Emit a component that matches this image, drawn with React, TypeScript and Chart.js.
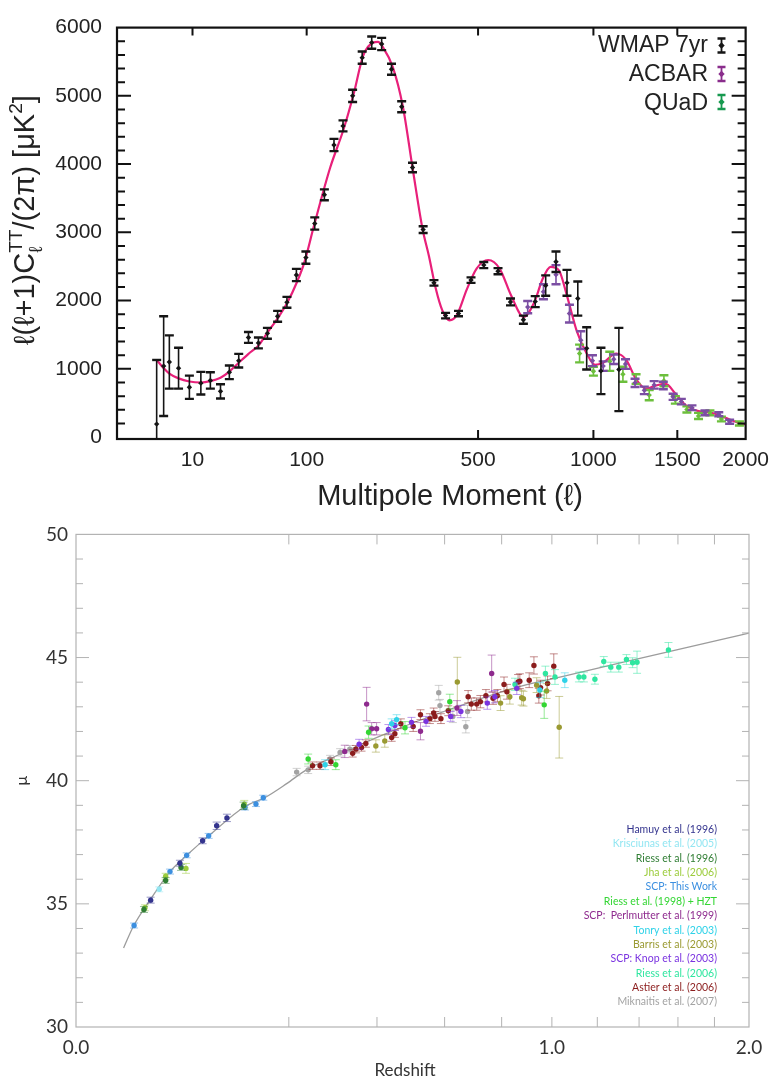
import React, { useEffect, useRef } from 'react';
import { Chart, registerables, LinearScale } from 'chart.js';

Chart.register(...registerables);

// ---------------- custom power-law axis (x^p) ----------------
class PowScale extends LinearScale {
  static id = 'pow';
  static defaults = {};
  expo(): number {
    const e = (this.options as any).exponent;
    return typeof e === 'number' ? e : 0.5;
  }
  fwd(v: number): number {
    return Math.pow(Math.max(v, 0), this.expo());
  }
  getPixelForValue(value: any): number {
    if (value === null || value === undefined || isNaN(value)) return NaN;
    const a = this.fwd(this.min);
    const b = this.fwd(this.max);
    return this.getPixelForDecimal((this.fwd(+value) - a) / (b - a));
  }
  getValueForPixel(pixel: number): number {
    const a = this.fwd(this.min);
    const b = this.fwd(this.max);
    return Math.pow(a + this.getDecimalForPixel(pixel) * (b - a), 1 / this.expo());
  }
}
Chart.register(PowScale as any);

// ================= TOP PANEL DATA (CMB power spectrum) =================
const TOP_X_TICKS = [10, 100, 500, 1000, 1500, 2000];
const TOP_Y_TICKS = [0, 1000, 2000, 3000, 4000, 5000, 6000];
const TOP_TOPAXIS_TICKS = [10, 100, 500, 1000, 1500];
const TOP_BOTTOMAXIS_TICKS = [500, 1000, 1500];

const CURVE_L = [2, 3, 4, 6, 9, 13, 17, 22, 27, 33, 40, 48, 56, 66, 76, 88, 97, 110, 134, 156, 174, 192, 212, 222, 233, 255, 279, 303, 329, 347, 366, 385, 407, 430, 462, 495, 536, 578, 623, 673, 718, 753, 790, 828, 867, 915, 965, 1008, 1052, 1124, 1181, 1239, 1298, 1360, 1423, 1487, 1554, 1646, 1740, 1837, 1978, 2000];
const CURVE_D = [1130, 1010, 930, 860, 815, 800, 820, 870, 960, 1090, 1220, 1340, 1530, 1740, 1960, 2280, 2560, 3100, 3950, 4510, 5030, 5590, 5780, 5790, 5710, 5420, 4840, 3950, 3060, 2650, 2180, 1860, 1710, 1790, 2164, 2469, 2595, 2469, 2070, 1760, 1976, 2305, 2495, 2446, 2070, 1553, 1225, 1060, 1090, 1225, 1131, 849, 710, 755, 780, 638, 474, 380, 356, 286, 193, 188];

const WMAP_L = [2, 3, 4, 6, 9, 13, 17, 22, 27, 33, 40, 48, 56, 66, 76, 87, 99, 111, 125, 140, 155, 172, 190, 209, 230, 252, 276, 303, 331, 361, 395, 435, 476, 520, 572, 620, 672, 722, 768, 815, 867, 920, 965, 1040, 1139];
const WMAP_D = [190, 1040, 1100, 1010, 730, 790, 830, 670, 950, 1120, 1460, 1380, 1520, 1770, 1975, 2375, 2630, 3130, 3550, 4280, 4560, 5000, 5560, 5780, 5760, 5390, 4840, 3950, 3040, 2260, 1780, 1810, 2300, 2520, 2430, 1980, 1720, 1985, 2220, 2570, 2260, 2030, 1300, 970, 990];
const WMAP_ERR = [940, 730, 390, 300, 170, 165, 120, 105, 100, 100, 80, 80, 80, 80, 80, 90, 90, 90, 80, 90, 80, 90, 90, 90, 90, 80, 80, 70, 50, 40, 40, 40, 40, 45, 45, 50, 60, 80, 150, 150, 190, 250, 310, 340, 610];

const ACBAR_L = [690, 758, 815, 879, 935, 995, 1052, 1110, 1177, 1233, 1289, 1350, 1408, 1472, 1527, 1600, 1692, 1793, 1875];
const ACBAR_D = [1905, 2130, 2380, 1810, 1420, 1120, 1040, 1140, 1070, 795, 685, 765, 755, 590, 520, 430, 355, 335, 225];
const ACBAR_ERR = [90, 110, 140, 130, 130, 80, 70, 70, 70, 60, 55, 55, 55, 45, 40, 35, 35, 30, 30];

const QUAD_L = [929, 1000, 1088, 1162, 1239, 1319, 1412, 1487, 1565, 1646, 1728, 1813, 1951];
const QUAD_D = [1225, 965, 1110, 920, 850, 615, 825, 545, 405, 310, 355, 265, 200];
const QUAD_ERR = [130, 65, 140, 110, 70, 75, 80, 55, 45, 45, 35, 35, 30];

const TOP_LEGEND_LABELS = ['WMAP 7yr', 'ACBAR', 'QUaD'];
const TOP_LEGEND_COLORS = ['#151515', '#8a2d8c', '#17994f'];
const TOP_POINT_COLORS = ['#151515', '#7b4ea3', '#6cbf3c'];
const PINK = '#e8207a';

// ================= BOTTOM PANEL DATA (Hubble diagram) =================
const BOT_X_TICKS = [0, 1, 2];
const BOT_Y_TICKS = [30, 35, 40, 45, 50];
const BOT_MINOR_X = [0.2, 0.4, 0.6, 0.8, 1.0, 1.2, 1.4, 1.6, 1.8];

const LCDM_Z = [0.01, 0.0145, 0.0242, 0.039, 0.0541, 0.0781, 0.126, 0.158, 0.196, 0.235, 0.292, 0.408, 0.6065, 0.844, 1.034, 1.404, 1.83, 2.0];
const LCDM_MU = [33.21, 34.08, 35.15, 36.31, 36.97, 37.77, 38.95, 39.32, 39.88, 40.45, 40.95, 41.81, 42.85, 43.75, 44.21, 44.97, 45.72, 45.99];

// each entry: [redshift, distance modulus, error]
const HAMUY = [[0.0246, 35.15, 0.12], [0.0477, 36.65, 0.12], [0.0708, 37.56, 0.12], [0.0874, 38.17, 0.15], [0.1006, 38.49, 0.15]];
const KRISCIUNAS = [[0.0306, 35.59, 0.1]];
const RIESS96 = [[0.0204, 34.77, 0.12], [0.0355, 35.95, 0.12], [0.0487, 36.48, 0.12], [0.124, 38.98, 0.15]];
const JHA = [[0.021, 34.84, 0.12], [0.0355, 36.12, 0.12], [0.0534, 36.44, 0.2], [0.125, 39.05, 0.15]];
const SCP_NEW = [[0.0149, 34.12, 0.1], [0.039, 36.31, 0.1], [0.0541, 36.97, 0.1], [0.0777, 37.76, 0.1], [0.1262, 38.91, 0.1], [0.143, 39.05, 0.1], [0.1549, 39.31, 0.1]];
const RIESS98 = [[0.238, 40.88, 0.2], [0.298, 40.65, 0.2], [0.378, 41.97, 0.25], [0.478, 42.15, 0.25], [0.617, 43.21, 0.3], [0.968, 43.08, 0.55]];
const PERLMUTTER = [[0.319, 41.19, 0.25], [0.373, 43.11, 0.68], [0.386, 42.11, 0.25], [0.399, 42.11, 0.25], [0.524, 42.01, 0.35], [0.641, 42.95, 0.3], [0.763, 44.35, 0.75]];
const TONRY = [[0.274, 40.65, 0.2], [0.44, 42.31, 0.2], [0.454, 42.48, 0.2], [0.95, 43.68, 0.3], [1.055, 44.08, 0.3]];
const BARRIS = [[0.397, 41.41, 0.25], [0.421, 41.61, 0.25], [0.642, 44.01, 1.0], [0.796, 43.15, 0.3], [0.831, 43.41, 0.3], [0.877, 43.37, 0.3], [0.884, 43.33, 0.3], [0.937, 43.88, 0.3], [0.978, 43.64, 0.3], [1.031, 42.17, 1.25]];
const KNOP = [[0.354, 41.48, 0.2], [0.431, 42.08, 0.2], [0.449, 42.24, 0.2], [0.497, 42.37, 0.2], [0.541, 42.41, 0.2], [0.62, 42.61, 0.2], [0.654, 42.81, 0.25], [0.747, 43.15, 0.25], [0.775, 43.41, 0.25], [0.858, 43.75, 0.25]];
const RIESS06 = [[0.851, 43.91, 0.25], [0.973, 44.35, 0.3], [1.013, 44.21, 0.3], [1.117, 44.21, 0.2], [1.139, 44.21, 0.2], [1.189, 44.12, 0.2], [1.23, 44.84, 0.2], [1.263, 44.61, 0.2], [1.301, 44.61, 0.2], [1.338, 44.92, 0.2], [1.368, 44.79, 0.2], [1.39, 44.81, 0.45], [1.55, 45.31, 0.3]];
const ASTIER = [[0.247, 40.61, 0.15], [0.263, 40.61, 0.15], [0.287, 40.77, 0.15], [0.338, 41.11, 0.15], [0.346, 41.28, 0.15], [0.36, 41.35, 0.15], [0.371, 41.51, 0.15], [0.44, 41.75, 0.15], [0.449, 41.91, 0.15], [0.466, 42.31, 0.2], [0.502, 42.2, 0.2], [0.524, 42.68, 0.2], [0.553, 42.52, 0.2], [0.565, 42.75, 0.2], [0.569, 42.61, 0.2], [0.588, 42.52, 0.2], [0.612, 42.84, 0.2], [0.679, 43.41, 0.25], [0.69, 43.11, 0.25], [0.709, 43.11, 0.25], [0.722, 43.21, 0.25], [0.742, 43.45, 0.25], [0.768, 43.35, 0.25], [0.784, 43.45, 0.25], [0.809, 43.91, 0.3], [0.82, 43.61, 0.3], [0.863, 44.01, 0.3], [0.87, 44.04, 0.3], [0.907, 44.08, 0.3], [0.926, 44.68, 0.35], [0.946, 43.45, 0.3], [0.953, 43.78, 0.3], [0.982, 43.95, 0.3], [1.008, 44.65, 0.5]];
const MIKNAITIS = [[0.215, 40.35, 0.15], [0.238, 40.44, 0.15], [0.285, 40.88, 0.15], [0.308, 41.15, 0.15], [0.331, 41.28, 0.15], [0.581, 43.57, 0.3], [0.585, 43.05, 0.25], [0.627, 42.61, 0.25], [0.671, 42.19, 0.25], [0.677, 42.81, 0.25]];

const SN_SERIES = [HAMUY, KRISCIUNAS, RIESS96, JHA, SCP_NEW, RIESS98, PERLMUTTER, TONRY, BARRIS, KNOP, RIESS06, ASTIER, MIKNAITIS];
const SN_LABELS = ['Hamuy et al. (1996)', 'Krisciunas et al. (2005)', 'Riess et al. (1996)', 'Jha et al. (2006)', 'SCP: This Work', 'Riess et al. (1998) + HZT', 'SCP:  Perlmutter et al. (1999)', 'Tonry et al. (2003)', 'Barris et al. (2003)', 'SCP: Knop et al. (2003)', 'Riess et al. (2006)', 'Astier et al. (2006)', 'Miknaitis et al. (2007)'];
const SN_COLORS = ['#34348e', '#93e6f2', '#2f7d33', '#9ccc3c', '#3b8fe0', '#33d633', '#8e2a8e', '#2fd2e8', '#9a9a32', '#7a33e0', '#2fe6a0', '#8b1c1c', '#a3a3a3'];

const SANS = "'Liberation Sans', Arial, Helvetica, sans-serif";
const LATO = "Lato, 'Open Sans', sans-serif";

// ---------------- helpers ----------------
function makeErrorBars(id: string, lineWidth: number, capWidth: number, capHalf: number) {
  return {
    id,
    beforeDatasetDraw(chart: any, args: any) {
      const ds: any = chart.data.datasets[args.index];
      if (!ds.errs) return;
      const { ctx, chartArea: a } = chart;
      const xs = chart.scales.x;
      const ys = chart.scales.y;
      ctx.save();
      ctx.strokeStyle = ds.errColor;
      ds.data.forEach((p: any, i: number) => {
        const e = ds.errs[i];
        const x = xs.getPixelForValue(p.x);
        const yHi = ys.getPixelForValue(p.y + e);
        const yLo = ys.getPixelForValue(p.y - e);
        ctx.lineWidth = lineWidth;
        ctx.beginPath();
        ctx.moveTo(x, Math.max(yHi, a.top));
        ctx.lineTo(x, Math.min(yLo, a.bottom));
        ctx.stroke();
        ctx.lineWidth = capWidth;
        ctx.beginPath();
        if (yHi >= a.top) { ctx.moveTo(x - capHalf, yHi); ctx.lineTo(x + capHalf, yHi); }
        if (yLo <= a.bottom) { ctx.moveTo(x - capHalf, yLo); ctx.lineTo(x + capHalf, yLo); }
        ctx.stroke();
      });
      ctx.restore();
    },
  };
}

type Seg = { t: string; k?: 'sub' | 'sup'; stack?: boolean };
function drawRich(ctx: CanvasRenderingContext2D, segs: Seg[], size: number, family: string) {
  // lays out centred on x = 0, baseline y = 0
  let cur = 0;
  let prevStart = 0;
  const items: any[] = [];
  for (const s of segs) {
    const fs = s.k ? size * 0.66 : size;
    ctx.font = `${fs}px ${family}`;
    const w = ctx.measureText(s.t).width;
    const start = s.stack ? prevStart : cur;
    items.push({ s, fs, x: start });
    cur = Math.max(cur, start + w);
    prevStart = start;
  }
  const x0 = -cur / 2;
  ctx.textAlign = 'left';
  ctx.textBaseline = 'alphabetic';
  for (const it of items) {
    ctx.font = `${it.fs}px ${family}`;
    const dy = it.s.k === 'sub' ? size * 0.28 : it.s.k === 'sup' ? -size * 0.42 : 0;
    ctx.fillText(it.s.t, x0 + it.x, dy);
  }
}

function drawFrame(chart: any, color: string, width: number, tickWidth: number,
  yTicks: { v: number; len: number }[], xTop: { v: number; len: number }[], xBottom: { v: number; len: number }[]) {
  const { ctx, chartArea: a } = chart;
  const xs = chart.scales.x;
  const ys = chart.scales.y;
  ctx.save();
  ctx.strokeStyle = color;
  ctx.lineWidth = tickWidth;
  ctx.beginPath();
  for (const t of yTicks) {
    const y = ys.getPixelForValue(t.v);
    ctx.moveTo(a.left, y); ctx.lineTo(a.left + t.len, y);
    ctx.moveTo(a.right, y); ctx.lineTo(a.right - t.len, y);
  }
  for (const t of xTop) {
    const x = xs.getPixelForValue(t.v);
    ctx.moveTo(x, a.top); ctx.lineTo(x, a.top + t.len);
  }
  for (const t of xBottom) {
    const x = xs.getPixelForValue(t.v);
    ctx.moveTo(x, a.bottom); ctx.lineTo(x, a.bottom - t.len);
  }
  ctx.stroke();
  ctx.lineWidth = width;
  ctx.strokeRect(a.left, a.top, a.right - a.left, a.bottom - a.top);
  ctx.restore();
}

const pts = (xs: number[], ys: number[]) => xs.map((x, i) => ({ x, y: ys[i] }));

// ---------------- top chart ----------------
function topConfig(): any {
  const yMinor: { v: number; len: number }[] = [];
  for (let v = 200; v < 6000; v += 200) yMinor.push({ v, len: v % 1000 === 0 ? 14 : 8 });

  const decor = {
    id: 'topDecor',
    afterDraw(chart: any) {
      drawFrame(chart, '#111', 2.2, 2,
        yMinor,
        TOP_TOPAXIS_TICKS.map((v) => ({ v, len: 8 })),
        TOP_BOTTOMAXIS_TICKS.map((v) => ({ v, len: 9 })));
      const ctx: CanvasRenderingContext2D = chart.ctx;
      ctx.save();
      ctx.fillStyle = '#222';
      // x title
      ctx.save();
      ctx.translate(450, 505);
      drawRich(ctx, [{ t: 'Multipole Moment (ℓ)' }], 29, SANS);
      ctx.restore();
      // y title
      ctx.save();
      ctx.translate(34, 220);
      ctx.rotate(-Math.PI / 2);
      drawRich(ctx, [{ t: 'ℓ(ℓ+1)C' }, { t: 'ℓ', k: 'sub' }, { t: 'TT', k: 'sup', stack: true }, { t: '/(2π) [μK' }, { t: '2', k: 'sup' }, { t: ']' }], 29, SANS);
      ctx.restore();
      // legend
      const baselines = [52, 81, 110];
      const centers = [45.5, 74, 102];
      TOP_LEGEND_LABELS.forEach((lab, i) => {
        ctx.font = `23px ${SANS}`;
        ctx.textAlign = 'right';
        ctx.textBaseline = 'alphabetic';
        ctx.fillStyle = '#222';
        ctx.fillText(lab, 708, baselines[i]);
        const cx = 721.5;
        const cy = centers[i];
        ctx.strokeStyle = TOP_LEGEND_COLORS[i];
        ctx.fillStyle = TOP_LEGEND_COLORS[i];
        ctx.lineWidth = 1.8;
        ctx.beginPath();
        ctx.moveTo(cx, cy - 7); ctx.lineTo(cx, cy + 7);
        ctx.stroke();
        ctx.lineWidth = 2.4;
        ctx.beginPath();
        ctx.moveTo(cx - 4, cy - 7); ctx.lineTo(cx + 4, cy - 7);
        ctx.moveTo(cx - 4, cy + 7); ctx.lineTo(cx + 4, cy + 7);
        ctx.stroke();
        ctx.beginPath();
        ctx.moveTo(cx, cy - 3.2); ctx.lineTo(cx + 3.2, cy); ctx.lineTo(cx, cy + 3.2); ctx.lineTo(cx - 3.2, cy);
        ctx.closePath();
        ctx.fill();
      });
      ctx.restore();
    },
  };

  const series = [
    { l: WMAP_L, d: WMAP_D, e: WMAP_ERR },
    { l: ACBAR_L, d: ACBAR_D, e: ACBAR_ERR },
    { l: QUAD_L, d: QUAD_D, e: QUAD_ERR },
  ];

  return {
    type: 'scatter',
    data: {
      datasets: [
        ...series.map((s, i) => ({
          label: TOP_LEGEND_LABELS[i],
          data: pts(s.l, s.d),
          errs: s.e,
          errColor: TOP_POINT_COLORS[i],
          backgroundColor: TOP_POINT_COLORS[i],
          borderColor: TOP_POINT_COLORS[i],
          pointStyle: 'rectRot',
          pointRadius: 2.7,
          pointBorderWidth: 0,
          order: i + 1,
        })),
        {
          label: 'model',
          data: pts(CURVE_L, CURVE_D),
          showLine: true,
          borderColor: PINK,
          borderWidth: 2.2,
          pointRadius: 0,
          cubicInterpolationMode: 'monotone',
          order: 9,
        },
      ],
    },
    options: {
      responsive: false,
      animation: false,
      devicePixelRatio: 1,
      events: [],
      layout: { padding: { left: 0, right: 25, top: 13, bottom: 0 } },
      plugins: { legend: { display: false }, tooltip: { enabled: false } },
      scales: {
        x: {
          type: 'pow',
          exponent: 0.4,
          min: 0,
          max: 2000,
          grid: { display: false, drawTicks: false },
          border: { display: false },
          afterBuildTicks: (s: any) => { s.ticks = TOP_X_TICKS.map((v) => ({ value: v })); },
          afterFit: (s: any) => { s.height = 515 - 439; },
          ticks: { autoSkip: false, maxRotation: 0, padding: 9, color: '#222', font: { family: SANS, size: 21 }, callback: (v: any) => String(v) },
        },
        y: {
          type: 'linear',
          min: -28,
          max: 6000,
          grid: { display: false, drawTicks: false },
          border: { display: false },
          afterBuildTicks: (s: any) => { s.ticks = TOP_Y_TICKS.map((v) => ({ value: v })); },
          afterFit: (s: any) => { s.width = 117; },
          ticks: { autoSkip: false, padding: 15, color: '#222', font: { family: SANS, size: 21 }, callback: (v: any) => String(v) },
        },
      },
    },
    plugins: [makeErrorBars('topErr', 1.6, 2.4, 4.5), decor],
  };
}

// ---------------- bottom chart ----------------
function botConfig(): any {
  const yMinor: { v: number; len: number }[] = [];
  for (let v = 31; v < 50; v += 1) yMinor.push({ v, len: v % 5 === 0 ? 13 : 7 });

  const decor = {
    id: 'botDecor',
    afterDraw(chart: any) {
      drawFrame(chart, '#b3b3b3', 1.2, 1,
        yMinor,
        BOT_MINOR_X.map((v) => ({ v, len: 10 })),
        BOT_MINOR_X.map((v) => ({ v, len: 10 })));
      const ctx: CanvasRenderingContext2D = chart.ctx;
      ctx.save();
      ctx.fillStyle = '#333';
      ctx.font = `17px ${LATO}`;
      ctx.textAlign = 'center';
      ctx.textBaseline = 'alphabetic';
      ctx.fillText('Redshift', 405, 561);
      ctx.font = `10.5px ${LATO}`;
      ctx.textAlign = 'right';
      SN_LABELS.forEach((lab, i) => {
        ctx.fillStyle = SN_COLORS[i];
        ctx.fillText(lab, 717, 318 + i * 14.36);
      });
      ctx.restore();
    },
  };

  return {
    type: 'scatter',
    data: {
      datasets: [
        ...SN_SERIES.map((s, i) => ({
          label: SN_LABELS[i],
          data: s.map((p) => ({ x: p[0], y: p[1] })),
          errs: s.map((p) => p[2]),
          errColor: SN_COLORS[i] + '80',
          backgroundColor: SN_COLORS[i],
          borderColor: SN_COLORS[i],
          pointRadius: 2.7,
          pointBorderWidth: 0,
          order: 1,
        })),
        {
          label: 'LCDM',
          data: pts(LCDM_Z, LCDM_MU),
          showLine: true,
          borderColor: '#9c9c9c',
          borderWidth: 1.3,
          pointRadius: 0,
          cubicInterpolationMode: 'monotone',
          order: 5,
        },
      ],
    },
    options: {
      responsive: false,
      animation: false,
      devicePixelRatio: 1,
      events: [],
      layout: { padding: { left: 0, right: 29, top: 12, bottom: 0 } },
      plugins: { legend: { display: false }, tooltip: { enabled: false } },
      scales: {
        x: {
          type: 'pow',
          exponent: 0.5,
          min: 0,
          max: 2,
          grid: { display: false, drawTicks: false },
          border: { display: false },
          afterBuildTicks: (s: any) => { s.ticks = BOT_X_TICKS.map((v) => ({ value: v })); },
          afterFit: (s: any) => { s.height = 569 - 512; },
          ticks: { autoSkip: false, maxRotation: 0, padding: 9, color: '#333', font: { family: LATO, size: 19 }, callback: (v: any) => Number(v).toFixed(1) },
        },
        y: {
          type: 'linear',
          min: 30,
          max: 50,
          grid: { display: false, drawTicks: false },
          border: { display: false },
          title: { display: true, text: 'μ', color: '#333', font: { family: LATO, size: 16 }, padding: { top: 12, bottom: 0 } },
          afterBuildTicks: (s: any) => { s.ticks = BOT_Y_TICKS.map((v) => ({ value: v })); },
          afterFit: (s: any) => { s.width = 76; },
          ticks: { autoSkip: false, padding: 8, color: '#333', font: { family: LATO, size: 19 }, callback: (v: any) => String(v) },
        },
      },
    },
    plugins: [makeErrorBars('botErr', 1, 1, 4), decor],
  };
}

export default function App() {
  const topRef = useRef<HTMLCanvasElement>(null);
  const botRef = useRef<HTMLCanvasElement>(null);
  useEffect(() => {
    const c1 = new Chart(topRef.current as HTMLCanvasElement, topConfig());
    const c2 = new Chart(botRef.current as HTMLCanvasElement, botConfig());
    return () => {
      c1.destroy();
      c2.destroy();
    };
  }, []);
  return (
    <div style={{ position: 'absolute', left: 0, top: 0, width: 778, height: 1084, background: '#fff', overflow: 'hidden' }}>
      <canvas ref={topRef} width={778} height={515} style={{ position: 'absolute', left: 0, top: 0 }} />
      <canvas ref={botRef} width={778} height={569} style={{ position: 'absolute', left: 0, top: 515 }} />
    </div>
  );
}
